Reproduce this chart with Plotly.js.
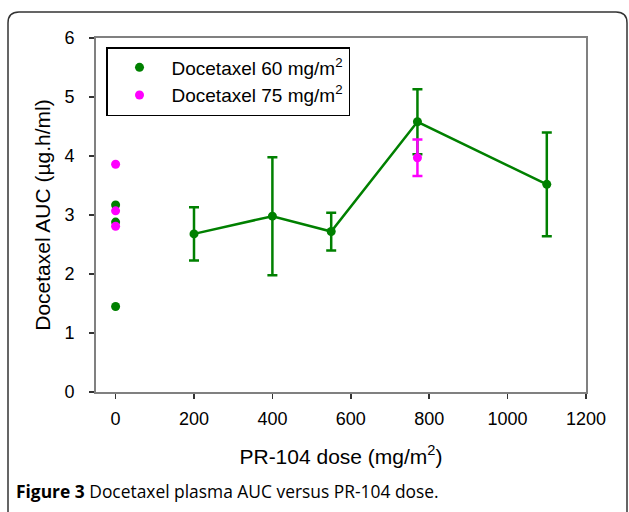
<!DOCTYPE html>
<html>
<head>
<meta charset="utf-8">
<script src="https://cdn.plot.ly/plotly-3.0.1.min.js"></script>
<style>
html,body{margin:0;padding:0;background:#fff;}
#chart{width:629px;height:512px;}
</style>
</head>
<body>
<div id="chart"></div>
<script>
// ---- data ----
var baselineDose60 = [0, 0, 0];
var baselineAuc60 = [3.17, 2.88, 1.45];
var baselineDose75 = [0, 0, 0];
var baselineAuc75 = [3.86, 3.07, 2.81];
var comboDose60 = [200, 400, 550, 770, 1100];
var comboAuc60 = [2.68, 2.98, 2.72, 4.58, 3.52];
var comboErr60 = [0.45, 1.0, 0.32, 0.55, 0.88];
var comboDose75 = [770];
var comboAuc75 = [3.97];
var comboErr75 = [0.31];
var seriesNames = ["Docetaxel 60 mg/m<sup>2</sup>", "Docetaxel 75 mg/m<sup>2</sup>"];
var xTicks = [0, 200, 400, 600, 800, 1000, 1200];
var yTicks = [0, 1, 2, 3, 4, 5, 6];

var GREEN = "#008000", MAGENTA = "#ff00ff";

var traces = [
  {x: comboDose60, y: comboAuc60, type: "scatter", mode: "lines+markers",
   line: {color: GREEN, width: 2.5}, marker: {color: GREEN, size: 9},
   error_y: {type: "data", array: comboErr60, visible: true, color: GREEN, thickness: 2.5, width: 5},
   showlegend: false, hoverinfo: "x+y"},
  {x: baselineDose60, y: baselineAuc60, type: "scatter", mode: "markers",
   marker: {color: GREEN, size: 9}, name: seriesNames[0]},
  {x: comboDose75, y: comboAuc75, type: "scatter", mode: "markers",
   marker: {color: MAGENTA, size: 9},
   error_y: {type: "data", array: comboErr75, visible: true, color: MAGENTA, thickness: 2.5, width: 5},
   showlegend: false},
  {x: baselineDose75, y: baselineAuc75, type: "scatter", mode: "markers",
   marker: {color: MAGENTA, size: 9}, name: seriesNames[1]}
];

// plot area in pixels
var L = 96, R = 586, T = 38, B = 392, W = 629, H = 512;
function px(x) { return (x - L) / (R - L); }
function py(y) { return (B - y) / (B - T); }
// outer rounded frame
var fx0 = 8, fy0 = 12, fx1 = 627, fy1 = 540, rr = 11;
var framePath = "M " + px(fx0) + "," + py(fy1) +
  " L " + px(fx0) + "," + py(fy0 + rr) +
  " Q " + px(fx0) + "," + py(fy0) + " " + px(fx0 + rr) + "," + py(fy0) +
  " L " + px(fx1 - rr) + "," + py(fy0) +
  " Q " + px(fx1) + "," + py(fy0) + " " + px(fx1) + "," + py(fy0 + rr) +
  " L " + px(fx1) + "," + py(fy1);

var layout = {
  width: W, height: H,
  margin: {l: L, r: W - R, t: T, b: H - B},
  paper_bgcolor: "#fff", plot_bgcolor: "#fff",
  font: {family: "Liberation Sans, Arial, sans-serif", color: "#000"},
  showlegend: true,
  legend: {x: px(106), y: py(47), xanchor: "left", yanchor: "top",
           bgcolor: "rgba(255,255,255,0)", bordercolor: "#000", borderwidth: 1.5,
           font: {size: 19, family: "Liberation Sans, Arial, sans-serif"}, itemwidth: 54},
  xaxis: {range: [-50, 1200], tickvals: xTicks, ticktext: xTicks.map(String),
          showgrid: false, zeroline: false, showline: true, linecolor: "#808080", linewidth: 2,
          mirror: true, ticks: "outside", ticklen: 5, tickwidth: 1.5, tickcolor: "#333",
          tickfont: {size: 18}, ticklabelstandoff: 4,
          title: {text: "PR-104 dose (mg/m<sup>2</sup>)", font: {size: 21}, standoff: 22}},
  yaxis: {range: [0, 6], tickvals: yTicks, ticktext: yTicks.map(String),
          showgrid: false, zeroline: false, showline: true, linecolor: "#808080", linewidth: 2,
          mirror: true, ticks: "outside", ticklen: 5, tickwidth: 1.5, tickcolor: "#333",
          tickfont: {size: 18}, ticklabelstandoff: 11,
          title: {text: "Docetaxel AUC (µg.h/ml)", font: {size: 21}, standoff: 8}},
  shapes: [
    {type: "path", xref: "paper", yref: "paper", path: framePath,
     line: {color: "#333", width: 1.5}, fillcolor: "rgba(0,0,0,0)", layer: "below"}
  ],
  annotations: [
    {xref: "paper", yref: "paper", x: px(14), y: py(491), xanchor: "left", yanchor: "middle",
     showarrow: false, align: "left",
     text: "<b>Figure 3</b> Docetaxel plasma AUC versus PR-104 dose.",
     font: {family: "Open Sans, Noto Sans, sans-serif", size: 17.4, color: "#000"}}
  ]
};

Plotly.newPlot("chart", traces, layout, {displayModeBar: false, staticPlot: true});
</script>
</body>
</html>
